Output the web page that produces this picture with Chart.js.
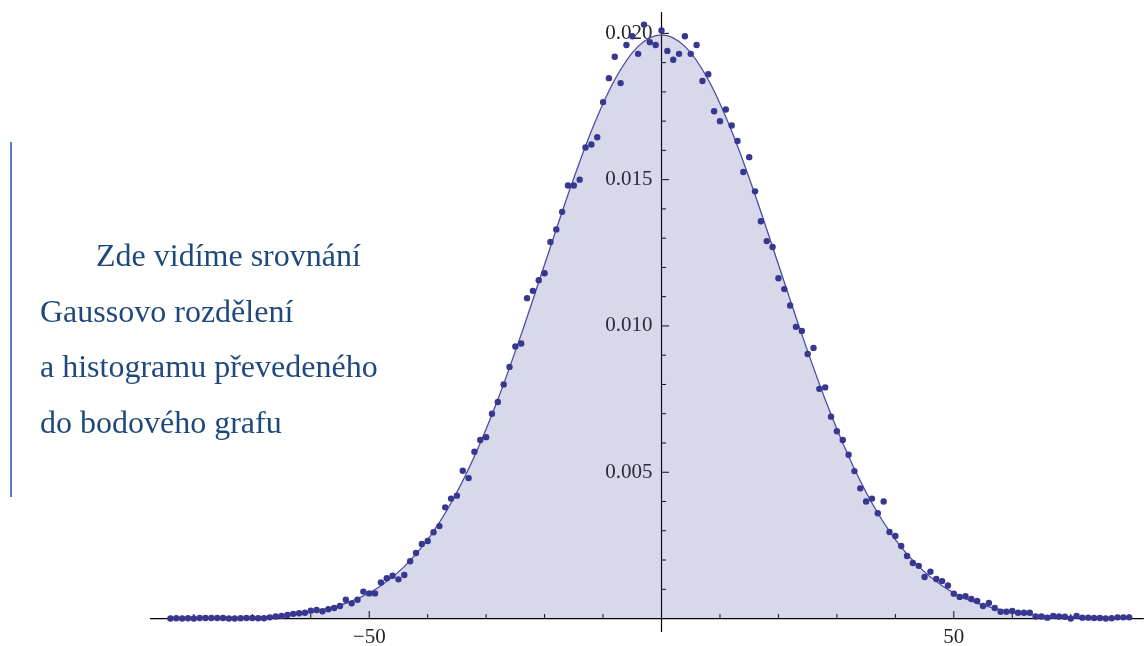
<!DOCTYPE html>
<html lang="cs">
<head>
<meta charset="utf-8">
<title>Gaussovo rozdělení a histogram</title>
<script src="https://cdn.jsdelivr.net/npm/chart.js@4.4.1/dist/chart.umd.min.js"></script>
<style>
  html, body { margin: 0; padding: 0; background: #ffffff; }
  #wrap { position: relative; width: 1147px; height: 646px; overflow: hidden; }
  #chartBox { position: absolute; left: 0; top: 0; width: 1147px; height: 646px; }
  #note {
    position: absolute; left: 40px; top: 228px;
    font-family: "Liberation Serif", "Times New Roman", serif;
    font-size: 32px; line-height: 55.7px; color: #1f497d;
    white-space: nowrap;
  }
  #note .first { padding-left: 56px; }
  #bar { position: absolute; left: 10px; top: 142px; width: 2px; height: 355px; background: #4f81bd; }
</style>
</head>
<body>
<div id="wrap">
  <div id="chartBox"><canvas id="c"></canvas></div>
  <div id="bar"></div>
  <div id="note">
    <div class="first">Zde vidíme srovnání</div>
    <div>Gaussovo rozdělení</div>
    <div>a histogramu převedeného</div>
    <div>do bodového grafu</div>
  </div>
</div>
<script>
// Histogram bins (unit width) and relative frequencies
const binX = [
  -84,-83,-82,-81,-80,-79,-78,-77,-76,-75,-74,-73,-72,-71,-70,-69,-68,-67,-66,-65,
  -64,-63,-62,-61,-60,-59,-58,-57,-56,-55,-54,-53,-52,-51,-50,-49,-48,-47,-46,-45,
  -44,-43,-42,-41,-40,-39,-38,-37,-36,-35,-34,-33,-32,-31,-30,-29,-28,-27,-26,-25,
  -24,-23,-22,-21,-20,-19,-18,-17,-16,-15,-14,-13,-12,-11,-10,-9,-8,-7,-6,-5,
  -4,-3,-2,-1,0,1,2,3,4,5,6,7,8,9,10,11,12,13,14,15,
  16,17,18,19,20,21,22,23,24,25,26,27,28,29,30,31,32,33,34,35,
  36,37,38,39,40,41,42,43,44,45,46,47,48,49,50,51,52,53,54,55,
  56,57,58,59,60,61,62,63,64,65,66,67,68,69,70,71,72,73,74,75,
  76,77,78,79,80
];
const binFreq = [
  0,0.00001,0,0.00001,0,0.00002,0.00002,0.00002,0.00002,0.00002,0,0,0.00001,0.00002,0.00002,0.00001,0.00001,0.00004,0.00007,0.00009,
  0.00012,0.00016,0.00018,0.0002,0.00027,0.00029,0.00025,0.00032,0.00036,0.00043,0.00064,0.00052,0.00064,0.00092,0.00086,0.00086,0.00123,0.00138,0.00146,0.00134,
  0.00149,0.00196,0.00224,0.00255,0.00265,0.00295,0.00316,0.0038,0.0041,0.0042,0.00505,0.0048,0.0057,0.0061,0.0062,0.0070,0.0074,0.0080,0.0086,0.0093,
  0.0094,0.01095,0.0112,0.01156,0.0118,0.01287,0.0133,0.0139,0.0148,0.0148,0.0150,0.0161,0.0162,0.01645,0.01765,0.01847,0.0192,0.0183,0.0196,0.0199,
  0.0193,0.0203,0.0197,0.0196,0.0201,0.0194,0.0191,0.0193,0.0199,0.0193,0.0196,0.01837,0.0186,0.01734,0.0170,0.0174,0.01685,0.01632,0.01526,0.01577,
  0.0146,0.01358,0.0129,0.0127,0.01163,0.01126,0.0107,0.00997,0.00983,0.00904,0.00925,0.00785,0.0079,0.0069,0.0064,0.0061,0.0056,0.00504,0.00445,0.0040,
  0.0041,0.0036,0.0040,0.00296,0.00282,0.00248,0.00214,0.0019,0.0018,0.00142,0.0016,0.00135,0.00128,0.00113,0.00085,0.00074,0.00076,0.00067,0.0006,0.00043,
  0.00053,0.00036,0.00023,0.00023,0.00026,0.0002,0.0002,0.0002,0.00007,0.00007,0.00003,0.00009,0.00007,0.00006,0,0.00009,0.00003,0.00003,0.00002,0.00002,
  0,0.00001,0.00004,0.00004,0.00004
];

// Gaussian density curve, sampled every 4 units
const curveX = [
  -84,-80,-76,-72,-68,-64,-60,-56,-52,-48,-44,-40,-36,-32,-28,-24,-20,-16,-12,-8,-4,
  0,4,8,12,16,20,24,28,32,36,40,44,48,52,56,60,64,68,72,76,80
];
const curveY = [
  0.0000029,0.0000067,0.0000146,0.0000306,0.0000616,0.000119,0.000222,0.000396,0.000679,0.00112,0.001774,
  0.0027,0.003948,0.005547,0.007487,0.009711,0.0121,0.014487,0.016664,0.018416,0.019555,
  0.01995,
  0.019555,0.018416,0.016664,0.014487,0.0121,0.009711,0.007487,0.005547,0.003948,0.0027,
  0.001774,0.00112,0.000679,0.000396,0.000222,0.000119,0.0000616,0.0000306,0.0000146,0.0000067
];

// Axis ticks
const xMajorTicks = [-50, 50];
const xMajorLabels = ["\u221250", "50"];
const xMinorTicks = [-80, -70, -60, -40, -30, -20, -10, 10, 20, 30, 40, 60, 70, 80];
const yMajorTicks = [0.005, 0.010, 0.015, 0.020];
const yMajorLabels = ["0.005", "0.010", "0.015", "0.020"];
const yMinorTicks = [0.001, 0.002, 0.003, 0.004, 0.006, 0.007, 0.008, 0.009,
                     0.011, 0.012, 0.013, 0.014, 0.016, 0.017, 0.018, 0.019];

const dots = binX.map((x, i) => ({ x: x, y: binFreq[i] }));
const curve = curveX.map((x, i) => ({ x: x, y: curveY[i] }));

// Axes crossing at the origin, ticks pointing into the plot
const originAxes = {
  id: 'originAxes',
  beforeDatasetsDraw(chart) {
    const ctx = chart.ctx;
    const xs = chart.scales.x, ys = chart.scales.y;
    const area = chart.chartArea;
    const x0 = xs.getPixelForValue(0);
    const y0 = ys.getPixelForValue(0);
    ctx.save();
    ctx.strokeStyle = '#000000';
    ctx.lineWidth = 1.2;
    ctx.beginPath();
    ctx.moveTo(area.left, y0); ctx.lineTo(area.right, y0);
    ctx.moveTo(x0, area.top); ctx.lineTo(x0, area.bottom);
    ctx.stroke();

    ctx.lineWidth = 1;
    ctx.beginPath();
    xMinorTicks.forEach(v => { const p = xs.getPixelForValue(v); ctx.moveTo(p, y0); ctx.lineTo(p, y0 - 4.5); });
    xMajorTicks.forEach(v => { const p = xs.getPixelForValue(v); ctx.moveTo(p, y0); ctx.lineTo(p, y0 - 7.5); });
    yMinorTicks.forEach(v => { const p = ys.getPixelForValue(v); ctx.moveTo(x0, p); ctx.lineTo(x0 + 4.5, p); });
    yMajorTicks.forEach(v => { const p = ys.getPixelForValue(v); ctx.moveTo(x0, p); ctx.lineTo(x0 + 7.5, p); });
    ctx.stroke();

    ctx.fillStyle = '#262626';
    ctx.font = '21px "Liberation Serif", "Times New Roman", serif';
    ctx.textBaseline = 'alphabetic';
    ctx.textAlign = 'center';
    xMajorTicks.forEach((v, i) => {
      ctx.fillText(xMajorLabels[i], xs.getPixelForValue(v), y0 + 24.5);
    });
    ctx.textAlign = 'right';
    yMajorTicks.forEach((v, i) => {
      ctx.fillText(yMajorLabels[i], x0 - 9, ys.getPixelForValue(v) + 5.5);
    });
    ctx.restore();
  }
};

new Chart(document.getElementById('c'), {
  type: 'scatter',
  data: {
    datasets: [
      {
        label: 'histogram',
        data: dots,
        order: 1,
        pointRadius: 3.2,
        pointHoverRadius: 3.2,
        pointBackgroundColor: '#37378f',
        pointBorderWidth: 0,
        showLine: false
      },
      {
        label: 'Gauss',
        data: curve,
        order: 2,
        showLine: true,
        pointRadius: 0,
        borderColor: '#4c4ca4',
        borderWidth: 1.3,
        cubicInterpolationMode: 'monotone',
        fill: 'origin',
        backgroundColor: 'rgba(61,61,153,0.2)'
      }
    ]
  },
  options: {
    responsive: true,
    maintainAspectRatio: false,
    animation: false,
    clip: false,
    layout: { padding: { left: 150, right: 1, top: 12, bottom: 14 } },
    plugins: { legend: { display: false }, tooltip: { enabled: false } },
    scales: {
      x: { type: 'linear', min: -87.5, max: 82.5, display: false },
      y: { type: 'linear', min: -0.00046, max: 0.02073, display: false }
    }
  },
  plugins: [originAxes]
});
</script>
</body>
</html>
